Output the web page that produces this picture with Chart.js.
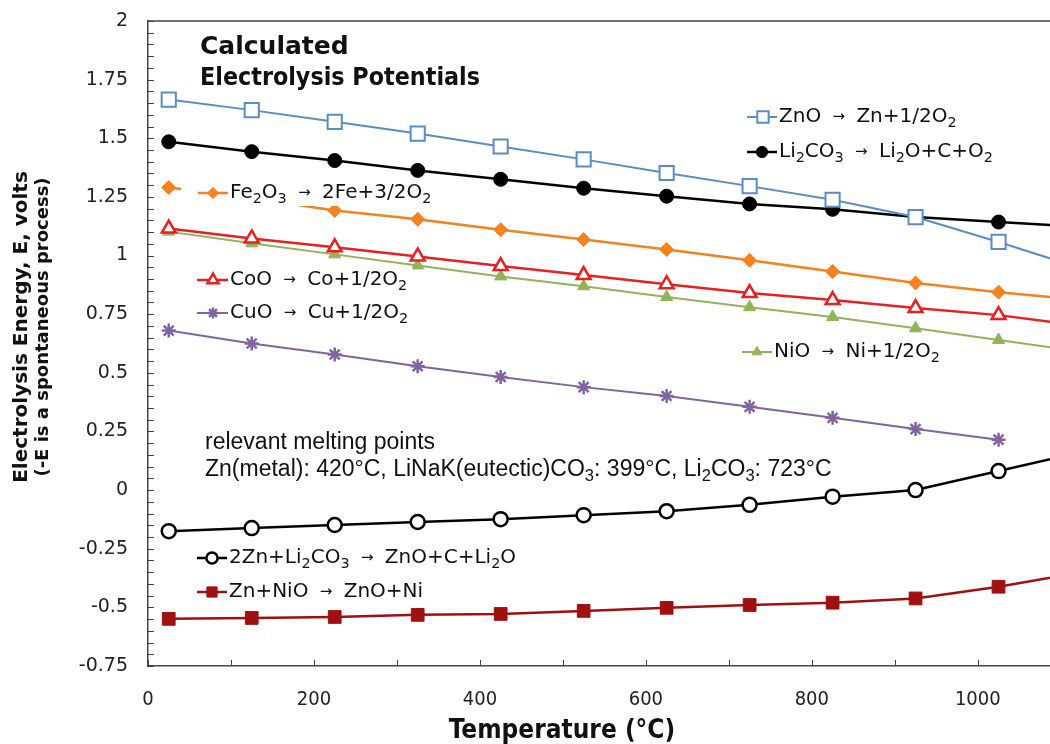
<!DOCTYPE html>
<html>
<head>
<meta charset="utf-8">
<script src="https://cdn.jsdelivr.net/npm/chart.js"></script>
<style>
  html, body { margin: 0; padding: 0; background: #fff; overflow: hidden; }
</style>
</head>
<body>
<canvas id="elecChart" width="1050" height="744"></canvas>
<script>
/* ---------- data (E in volts vs temperature in C) ---------- */
var temps = [25, 125, 225, 325, 425, 525, 625, 725, 825, 925, 1025, 1125];

var znO     = [1.665, 1.620, 1.570, 1.520, 1.465, 1.410, 1.352, 1.296, 1.238, 1.164, 1.058, 0.945];
var li2co3  = [1.485, 1.443, 1.405, 1.363, 1.325, 1.287, 1.253, 1.220, 1.197, 1.164, 1.143, 1.122];
var fe2o3   = [1.290, 1.245, 1.192, 1.155, 1.110, 1.068, 1.026, 0.980, 0.932, 0.883, 0.844, 0.810];
var coO     = [1.115, 1.073, 1.035, 0.996, 0.955, 0.917, 0.878, 0.840, 0.810, 0.776, 0.746, 0.700];
var niO     = [1.102, 1.052, 1.005, 0.958, 0.911, 0.869, 0.823, 0.780, 0.738, 0.690, 0.640, 0.590];
var cuO     = [0.680, 0.625, 0.578, 0.528, 0.482, 0.439, 0.401, 0.355, 0.308, 0.260, 0.215];
var znLi2co3 = [-0.175, -0.162, -0.149, -0.136, -0.124, -0.107, -0.090, -0.063, -0.028, 0.000, 0.081, 0.163];
var znNiO   = [-0.549, -0.545, -0.541, -0.532, -0.528, -0.515, -0.502, -0.490, -0.480, -0.462, -0.412, -0.350];

var xTickValues = [0, 100, 200, 300, 400, 500, 600, 700, 800, 900, 1000];
var yTickValues = [-0.75, -0.5, -0.25, 0, 0.25, 0.5, 0.75, 1, 1.25, 1.5, 1.75, 2];

/* legend texts, "_x" = subscript x */
var seriesNames = [
  "ZnO → Zn+1/2O_2",
  "Li_2CO_3 → Li_2O+C+O_2",
  "Fe_2O_3 → 2Fe+3/2O_2",
  "CoO → Co+1/2O_2",
  "NiO → Ni+1/2O_2",
  "CuO → Cu+1/2O_2",
  "2Zn+Li_2CO_3 → ZnO+C+Li_2O",
  "Zn+NiO → ZnO+Ni"
];
var titleLines = ["Calculated", "Electrolysis Potentials"];
var noteLines = ["relevant melting points", "Zn(metal): 420°C, LiNaK(eutectic)CO_3: 399°C, Li_2CO_3: 723°C"];
var xTitle = "Temperature (°C)";
var yTitle = ["Electrolysis Energy, E, volts", "(-E is a spontaneous process)"];

function pts(vals) {
  return vals.map(function (v, i) { return { x: temps[i], y: v }; });
}

/* ---------- styles ---------- */
var styles = [
  { color: "#5b8cc4", fill: "#ffffff", style: "rect",    r: 10, bw: 2,   lw: 2,   legend: [747, 777, 763, 117] },
  { color: "#000000", fill: "#000000", style: "circle",  r: 7,  bw: 1,   lw: 2.5, legend: [747, 777, 762, 152] },
  { color: "#f5821f", fill: "#f5821f", style: "rectRot", r: 7,  bw: 1,   lw: 2.5, legend: [198, 228, 213, 193] },
  { color: "#e8201f", fill: "#ffffff", style: "triangle",r: 8,  bw: 2.5, lw: 2.5, legend: [197, 228, 213, 280] },
  { color: "#93b35a", fill: "#93b35a", style: "triangle",r: 7,  bw: 1,   lw: 2,   legend: [742, 772, 757, 352] },
  { color: "#8064a2", fill: "#8064a2", style: "star",    r: 7,  bw: 2.5, lw: 2,   legend: [197, 228, 213, 313] },
  { color: "#000000", fill: "#ffffff", style: "circle",  r: 7,  bw: 2.5, lw: 2.5, legend: [197, 227, 212, 558] },
  { color: "#a01010", fill: "#a01010", style: "rect",    r: 9,  bw: 1,   lw: 2.5, legend: [197, 227, 212, 592] }
];
var seriesData = [znO, li2co3, fe2o3, coO, niO, cuO, znLi2co3, znNiO];

var datasets = seriesData.map(function (vals, i) {
  var s = styles[i];
  return {
    label: seriesNames[i],
    data: pts(vals),
    borderColor: s.color,
    backgroundColor: s.fill,
    borderWidth: s.lw,
    pointStyle: s.style,
    pointRadius: s.r,
    pointBorderWidth: s.bw,
    pointBorderColor: s.color,
    pointBackgroundColor: s.fill,
    tension: 0
  };
});

/* ---------- text with subscripts ---------- */
function richParts(str) {
  var parts = [];
  for (var i = 0; i < str.length; i++) {
    var ch = str[i];
    if (ch === "_") { parts.push({ t: str[i + 1], k: "sub" }); i++; }
    else if (ch === "→") { parts.push({ t: ch, k: "arrow" }); }
    else if (parts.length && parts[parts.length - 1].k === "n") { parts[parts.length - 1].t += ch; }
    else { parts.push({ t: ch, k: "n" }); }
  }
  return parts;
}
function partFont(p, size, family, weight) {
  var fs = p.k === "n" ? size : (p.k === "sub" ? size * 0.72 : size * 0.75);
  return (weight || "normal") + " " + fs + "px " + family;
}
function richWidth(ctx, str, size, family, weight) {
  var w = 0;
  richParts(str).forEach(function (p) {
    ctx.font = partFont(p, size, family, weight);
    w += ctx.measureText(p.t).width + (p.k === "arrow" ? size * 0.5 : 0);
  });
  return w;
}
function drawRich(ctx, str, x, y, size, family, weight) {
  ctx.textBaseline = "middle";
  ctx.textAlign = "left";
  var cx = x;
  richParts(str).forEach(function (p) {
    ctx.font = partFont(p, size, family, weight);
    var dy = p.k === "sub" ? size * 0.3 : 0;
    if (p.k === "arrow") cx += size * 0.25;
    ctx.fillText(p.t, cx, y + dy);
    cx += ctx.measureText(p.t).width;
    if (p.k === "arrow") cx += size * 0.25;
  });
  return cx;
}

var LEGEND_FONT = "'DejaVu Sans', Verdana, sans-serif";
var LEGEND_SIZE = 20;

var decorPlugin = {
  id: "decor",
  afterDatasetsDraw: function (chart) {
    var ctx = chart.ctx, area = chart.chartArea;
    var xs = chart.scales.x, ys = chart.scales.y;
    ctx.save();

    /* frame top line + inward ticks */
    ctx.strokeStyle = "#444";
    ctx.lineWidth = 1.5;
    ctx.beginPath();
    ctx.moveTo(area.left, area.top);
    ctx.lineTo(area.right, area.top);
    ctx.stroke();
    ctx.lineWidth = 1;
    for (var v = -0.75; v <= 2.0001; v += 0.05) {
      var py = Math.round(ys.getPixelForValue(v)) + 0.5;
      ctx.beginPath();
      ctx.moveTo(area.left, py);
      ctx.lineTo(area.left + 6, py);
      ctx.stroke();
    }
    xTickValues.forEach(function (t) {
      var px = Math.round(xs.getPixelForValue(t)) + 0.5;
      ctx.beginPath();
      ctx.moveTo(px, area.bottom);
      ctx.lineTo(px, area.bottom - 6);
      ctx.stroke();
    });

    /* inline legend with white boxes over the lines */
    seriesNames.forEach(function (name, i) {
      var s = styles[i], L = s.legend;
      var w = richWidth(ctx, name, LEGEND_SIZE, LEGEND_FONT);
      ctx.fillStyle = "#fff";
      if (i === 2) ctx.fillRect(L[0] - 17, L[3] - 13, L[1] - L[0] + w + 30, 26);
      else ctx.fillRect(L[0] - 3, L[3] - 13, L[1] - L[0] + w + 10, 28);
      ctx.strokeStyle = s.color;
      ctx.lineWidth = s.lw;
      ctx.beginPath();
      ctx.moveTo(L[0], L[3]);
      ctx.lineTo(L[1], L[3]);
      ctx.stroke();
      ctx.fillStyle = s.fill;
      ctx.lineWidth = s.bw;
      Chart.helpers.drawPoint(ctx, { pointStyle: s.style, radius: s.r * 0.8, rotation: 0, borderWidth: s.bw }, L[2], L[3]);
      ctx.fillStyle = "#111";
      drawRich(ctx, name, L[1] + 2, L[3], LEGEND_SIZE, LEGEND_FONT);
    });

    /* title */
    ctx.fillStyle = "#111";
    ctx.font = "bold 25px " + LEGEND_FONT;
    ctx.textBaseline = "middle";
    ctx.textAlign = "left";
    ctx.fillText(titleLines[0], 200, 47, 150);
    ctx.fillText(titleLines[1], 200, 78, 280);

    /* melting point note */
    drawRich(ctx, noteLines[0], 205, 443, 23, "'Liberation Sans', Arial, sans-serif");
    drawRich(ctx, noteLines[1], 205, 470, 23, "'Liberation Sans', Arial, sans-serif");

    /* axis titles */
    ctx.fillStyle = "#111";
    ctx.textAlign = "center";
    ctx.font = "bold 26px 'DejaVu Sans Condensed', 'DejaVu Sans', sans-serif";
    ctx.fillText(xTitle, 562, 731);
    ctx.save();
    ctx.translate(22, 327);
    ctx.rotate(-Math.PI / 2);
    ctx.font = "bold 20px " + LEGEND_FONT;
    ctx.fillText(yTitle[0], 0, 0);
    ctx.font = "bold 18px " + LEGEND_FONT;
    ctx.fillText(yTitle[1], 0, 21);
    ctx.restore();

    ctx.restore();
  }
};

new Chart("elecChart", {
  type: "line",
  data: { datasets: datasets },
  options: {
    responsive: false,
    animation: false,
    devicePixelRatio: 1,
    layout: { autoPadding: false, padding: { left: 0, right: 0, top: 21, bottom: 0 } },
    plugins: {
      legend: { display: false },
      tooltip: { enabled: false },
      title: { display: false }
    },
    scales: {
      x: {
        type: "linear",
        min: 0,
        max: 1087,
        afterBuildTicks: function (scale) {
          scale.ticks = xTickValues.map(function (v) { return { value: v }; });
        },
        afterFit: function (scale) {
          scale.height = 78;
          scale.paddingLeft = 0;
          scale.paddingRight = 0;
        },
        grid: { display: false },
        border: { display: true, color: "#444", width: 1.5 },
        ticks: {
          padding: 14,
          color: "#222",
          font: { family: "'DejaVu Sans Condensed', 'DejaVu Sans', sans-serif", size: 20 },
          callback: function (v) { return v % 200 === 0 ? String(v) : ""; },
          maxRotation: 0,
          autoSkip: false
        }
      },
      y: {
        min: -0.75,
        max: 2,
        afterBuildTicks: function (scale) {
          scale.ticks = yTickValues.map(function (v) { return { value: v }; });
        },
        afterFit: function (scale) {
          scale.width = 148;
          scale.paddingTop = 0;
          scale.paddingBottom = 0;
        },
        grid: { display: false },
        border: { display: true, color: "#444", width: 1.5 },
        ticks: {
          padding: 12,
          color: "#222",
          font: { family: "'DejaVu Sans', Verdana, sans-serif", size: 19 },
          callback: function (v) { return String(v); }
        }
      }
    }
  },
  plugins: [decorPlugin]
});
</script>
</body>
</html>
